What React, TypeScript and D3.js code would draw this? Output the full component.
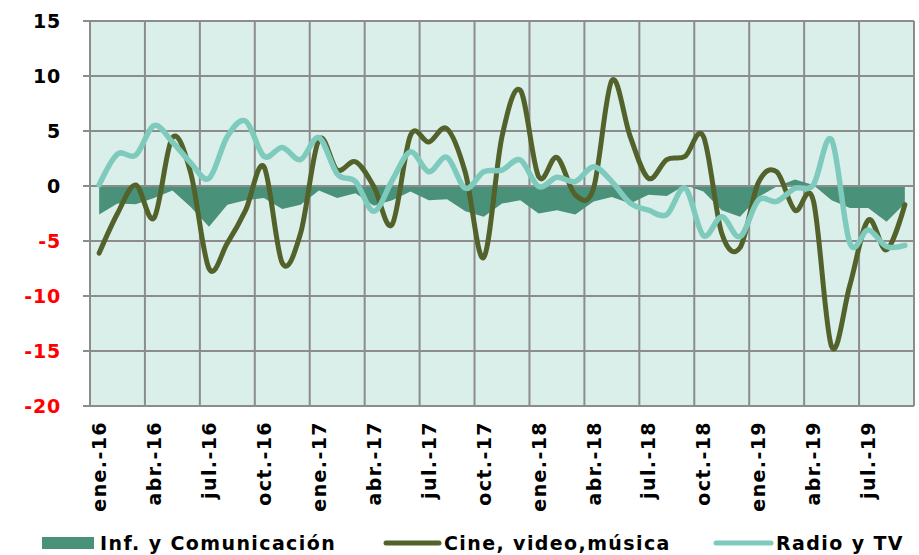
import React from "react";
import * as d3 from "d3";

const months = [
  "ene.-16", "feb.-16", "mar.-16", "abr.-16", "may.-16", "jun.-16", "jul.-16", "ago.-16", "sept.-16", "oct.-16", "nov.-16", "dic.-16",
  "ene.-17", "feb.-17", "mar.-17", "abr.-17", "may.-17", "jun.-17", "jul.-17", "ago.-17", "sept.-17", "oct.-17", "nov.-17", "dic.-17",
  "ene.-18", "feb.-18", "mar.-18", "abr.-18", "may.-18", "jun.-18", "jul.-18", "ago.-18", "sept.-18", "oct.-18", "nov.-18", "dic.-18",
  "ene.-19", "feb.-19", "mar.-19", "abr.-19", "may.-19", "jun.-19", "jul.-19", "ago.-19", "sept.-19",
];

// Inf. y Comunicación (area)
const infCom = [
  -2.6, -1.6, -1.65, -1.1, -0.4, -1.9, -3.7, -1.7, -1.3, -1.1, -2.1, -1.7,
  -0.4, -1.1, -0.65, -1.8, -1.3, -0.5, -1.3, -1.2, -2.3, -2.8, -1.6, -1.3,
  -2.5, -2.2, -2.6, -1.4, -1.0, -1.6, -0.8, -0.9, 0.1, -0.5, -2.2, -2.8,
  -1.0, -0.05, 0.6, 0.1, -1.3, -2.0, -2.0, -3.25, -1.6,
];

// Cine, video, música
const cine = [
  -6.1, -2.5, 0.1, -2.9, 4.4, 1.2, -7.5, -5.2, -2.2, 1.75, -7.0, -4.3,
  4.2, 1.45, 2.2, -0.05, -3.5, 4.6, 4.0, 5.2, 1.2, -6.5, 4.5, 8.7,
  0.85, 2.6, -0.8, -0.2, 9.6, 4.5, 0.7, 2.4, 2.7, 4.5, -4.3, -5.6,
  0.3, 1.3, -2.2, -1.3, -14.6, -9.0, -3.1, -5.8, -1.7,
];

// Radio y TV
const radio = [
  0.1, 2.9, 2.8, 5.5, 4.0, 2.1, 0.7, 4.5, 5.9, 2.7, 3.5, 2.4,
  4.4, 1.1, 0.4, -2.3, 0.5, 3.1, 1.3, 2.6, -0.2, 1.3, 1.45, 2.36,
  -0.05, 0.8, 0.4, 1.75, 0.4, -1.55, -2.2, -2.6, -0.2, -4.5, -2.8, -4.6,
  -1.3, -1.4, -0.2, 0.1, 4.2, -5.2, -4.0, -5.5, -5.4,
];

const yTicks = [15, 10, 5, 0, -5, -10, -15, -20];

const W = 919;
const H = 555;
const plot = { left: 90, right: 914, top: 21, bottom: 406 };
const font = "'DejaVu Sans', Verdana, sans-serif";

export default function App() {
  const x = d3.scaleBand<string>().domain(months).range([plot.left, plot.right]);
  const y = d3.scaleLinear().domain([-20, 15]).range([plot.bottom, plot.top]);
  const cx = (i: number) => (x(months[i]) as number) + x.bandwidth() / 2;

  const area = d3
    .area<number>()
    .x((_, i) => cx(i))
    .y0(y(0))
    .y1((d) => y(d));

  const line = d3
    .line<number>()
    .x((_, i) => cx(i))
    .y((d) => y(d))
    .curve(d3.curveCatmullRom.alpha(0));

  const gridColor = "#8c8c8c";
  const boundaries = d3.range(0, months.length + 1, 3).map((i) =>
    i < months.length ? (x(months[i]) as number) : plot.right
  );
  const minorTicks = d3.range(1, months.length).map((i) => x(months[i]) as number);

  return (
    <svg width={W} height={H} style={{ position: "absolute", left: 0, top: 0 }} fontFamily={font}>
      <rect x={plot.left} y={plot.top} width={plot.right - plot.left} height={plot.bottom - plot.top} fill="#daeeea" />
      {yTicks.map((t) => (
        <line key={t} x1={plot.left - 7} x2={plot.right} y1={y(t)} y2={y(t)} stroke={gridColor} strokeWidth={2} />
      ))}
      {boundaries.map((bx, i) => (
        <line key={i} x1={bx} x2={bx} y1={plot.top} y2={plot.bottom} stroke={gridColor} strokeWidth={2} />
      ))}
      {minorTicks.map((mx, i) => (
        <line key={i} x1={mx} x2={mx} y1={y(0)} y2={y(0) + 4} stroke={gridColor} strokeWidth={1.5} />
      ))}
      <path d={area(infCom) as string} fill="#4a917a" />
      <line x1={plot.left} x2={plot.right} y1={y(0)} y2={y(0)} stroke={gridColor} strokeWidth={2} />
      <path d={line(cine) as string} fill="none" stroke="#52622a" strokeWidth={5} strokeLinecap="round" />
      <path d={line(radio) as string} fill="none" stroke="#7ecbbd" strokeWidth={5.5} strokeLinecap="round" />
      {yTicks.map((t) => (
        <text key={t} x={61} y={y(t)} dy="0.36em" textAnchor="end" fontSize={19} fontWeight="bold" letterSpacing={0.8} fill={t < 0 ? "#ff0000" : "#000"}>
          {t}
        </text>
      ))}
      {months.map((m, i) =>
        i % 3 === 0 ? (
          <text key={m} transform={`translate(${cx(i) + 7},${plot.bottom + 15}) rotate(-90)`} textAnchor="end" fontSize={19} fontWeight="bold" letterSpacing={1.4}>
            {m}
          </text>
        ) : null
      )}
      <g fontSize={19} fontWeight="bold" letterSpacing={1.4}>
        <rect x={42} y={537} width={52} height={12} fill="#4a917a" />
        <text x={100} y={550}>Inf. y Comunicación</text>
        <line x1={386} x2={439} y1={543} y2={543} stroke="#52622a" strokeWidth={5} strokeLinecap="round" />
        <text x={444} y={550}>Cine, video,música</text>
        <line x1={716} x2={771} y1={543} y2={543} stroke="#7ecbbd" strokeWidth={5} strokeLinecap="round" />
        <text x={776} y={550}>Radio y TV</text>
      </g>
    </svg>
  );
}
